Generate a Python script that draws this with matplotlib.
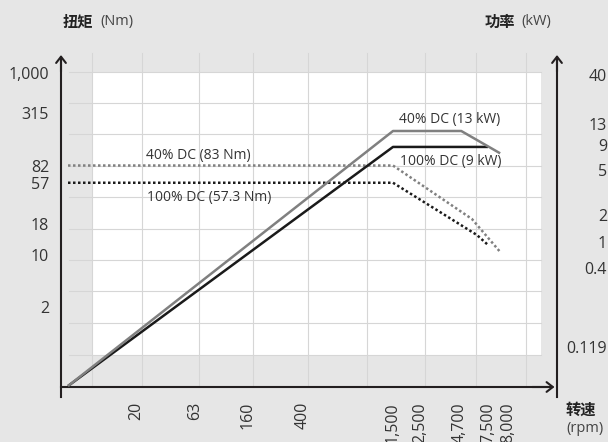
import numpy as np
import matplotlib
matplotlib.use("Agg")
import matplotlib.pyplot as plt
from matplotlib.patches import Rectangle

plt.rcParams['font.family'] = ['Open Sans', 'Noto Sans CJK SC', 'DejaVu Sans']

# --- данные (schematic) ---
rpm_ticks = [20, 63, 160, 400, 1500, 2500, 4700, 7500, 8000]
rpm_labels = ["20", "63", "160", "400", "1,500", "2,500", "4,700", "7,500", "8,000"]
torque_ticks = [2, 10, 18, 57, 82, 315, 1000]
torque_labels = ["2", "10", "18", "57", "82", "315", "1,000"]
power_ticks = [0.119, 0.4, 1, 2, 5, 9, 13, 40]
power_labels = ["0.119", "0.4", "1", "2", "5", "9", "13", "40"]

# torque curves (Nm)
t40_rpm = [5, 1500, 5740, 7800]
t40_val = [83, 83, 20.7, 10.6]
t100_rpm = [5, 1500, 6240, 7500]
t100_val = [57.3, 57.3, 14.6, 12.1]
# power curves (kW)
p40_rpm = [5, 1500, 4800, 7800]
p40_val = [0.01, 11.5, 11.5, 7.4]
p100_rpm = [5, 1500, 7500]
p100_val = [0.01, 8.6, 8.6]

# --- layout: pixel positions of the (non uniform) axis marks ---
W, H = 608, 442
AX_L, AX_R, AX_B, AX_T = 61, 557, 387, 55
x_anchor_val = [1, 5] + rpm_ticks + [20000]
x_anchor_px = [61, 68, 136, 195, 248, 303, 393, 420, 460, 488, 508, 557]
ty_anchor_val = [0.01, 2, 10, 18, 57, 82, 315, 1000, 10000]
ty_anchor_px = [400, 307, 255, 224, 183, 166, 113, 73, 20]
py_anchor_val = [0.001, 0.01, 0.119, 0.4, 1, 2, 5, 9, 13, 40, 1000]
py_anchor_px = [420, 386, 347, 268, 242, 215, 170, 145, 124, 75, 20]

grid_x_px = [92, 142, 199, 253, 308, 367, 425, 476, 526]
grid_y_px = [72, 103, 134, 166, 197, 229, 260, 291, 323, 355]

BG = '#e6e6e6'
GRID = '#d6d6d6'
AXC = '#231f20'
GRAY = '#808080'
BLACK = '#1a1a1a'
TXT = '#333333'


def make_scale(vals, pos):
    lv = np.log10(vals)
    pos = np.asarray(pos, float)

    def fwd(v):
        v = np.asarray(v, float)
        return np.interp(np.log10(np.clip(v, 1e-12, None)), lv, pos)

    def inv(p):
        return 10 ** np.interp(np.asarray(p, float), pos, lv)
    return fwd, inv


fx, ix = make_scale(x_anchor_val, np.array(x_anchor_px) - AX_L)
fy, iy = make_scale(ty_anchor_val, AX_B - np.array(ty_anchor_px))
fp, ip = make_scale(py_anchor_val, AX_B - np.array(py_anchor_px))
aw, ah = AX_R - AX_L, AX_B - AX_T

fig = plt.figure(figsize=(W / 100, H / 100), dpi=100, facecolor=BG)
ax = fig.add_axes([AX_L / W, (H - AX_B) / H, aw / W, ah / H])
ax.set_facecolor('none')
ax.set_xscale('function', functions=(fx, ix))
ax.set_yscale('function', functions=(fy, iy))
ax.set_xlim(ix(0), ix(aw))
ax.set_ylim(iy(0), iy(ah))

ax2 = ax.twinx()
ax2.set_yscale('function', functions=(fp, ip))
ax2.set_ylim(ip(0), ip(ah))

for a in (ax, ax2):
    for s in a.spines.values():
        s.set_visible(False)
    a.tick_params(length=0, labelsize=11.5, labelcolor=TXT)
    a.minorticks_off()

# white plot area + grid
ax.add_patch(Rectangle(((92 - AX_L) / aw, (AX_B - 355) / ah), (541 - 92) / aw, (355 - 72) / ah,
                       transform=ax.transAxes, fc='white', ec='none', zorder=0))
for gx in grid_x_px:
    ax.plot([(gx - AX_L) / aw] * 2, [0, (AX_B - 53) / ah], transform=ax.transAxes,
            color=GRID, lw=0.8, zorder=1, clip_on=False)
for gy in grid_y_px:
    ax.plot([(69 - AX_L) / aw, (541 - AX_L) / aw], [(AX_B - gy) / ah] * 2, transform=ax.transAxes,
            color=GRID, lw=0.8, zorder=1, clip_on=False)

# ticks
ax.set_xticks(rpm_ticks, rpm_labels, rotation=90, va='top', ha='center')
ax.tick_params(axis='x', pad=10.8)
ax.set_yticks(torque_ticks, torque_labels)
ax.tick_params(axis='y', pad=8.6)
ax2.set_yticks(power_ticks, power_labels)
ax2.tick_params(axis='y', pad=36)
for lab in ax2.get_yticklabels():
    lab.set_ha('right')

# curves
ax.plot(t40_rpm, t40_val, color=GRAY, lw=1.8, ls=(0, (1, 1)), zorder=3)
ax.plot(t100_rpm, t100_val, color=BLACK, lw=1.8, ls=(0, (1, 1)), zorder=3)
ax2.plot(p100_rpm, p100_val, color=BLACK, lw=1.8, zorder=4, solid_capstyle='butt')
ax2.plot(p40_rpm, p40_val, color=GRAY, lw=1.8, zorder=4, solid_capstyle='butt')

# axis lines with arrows
ax.plot([0, 0], [-10 / ah, 0.99], transform=ax.transAxes, color=AXC, lw=1.5, clip_on=False, zorder=5)
ax.plot([1, 1], [-10 / ah, 0.99], transform=ax.transAxes, color=AXC, lw=1.5, clip_on=False, zorder=5)
ax.plot([0, 0.99], [0, 0], transform=ax.transAxes, color=AXC, lw=1.5, clip_on=False, zorder=5)
arr = dict(arrowstyle='->,head_length=0.45,head_width=0.35', lw=1.5, color=AXC,
           shrinkA=0, shrinkB=0, mutation_scale=10)
ax.annotate('', xy=(0, 1), xytext=(0, 0.95), xycoords='axes fraction', arrowprops=arr)
ax.annotate('', xy=(1, 1), xytext=(1, 0.95), xycoords='axes fraction', arrowprops=arr)
ax.annotate('', xy=(0.995, 0), xytext=(0.95, 0), xycoords='axes fraction', arrowprops=arr)

# curve labels
ax.text((146 - AX_L) / aw, (AX_B - 155) / ah, "40% DC (83 Nm)", transform=ax.transAxes,
        fontsize=10, color=TXT, va='center', zorder=6)
ax.text((147 - AX_L) / aw, (AX_B - 197) / ah, "100% DC (57.3 Nm)", transform=ax.transAxes,
        fontsize=10, color=TXT, va='center', zorder=6)
ax.text((399 - AX_L) / aw, (AX_B - 119) / ah, "40% DC (13 kW)", transform=ax.transAxes,
        fontsize=10, color=TXT, va='center', zorder=6)
ax.text((400 - AX_L) / aw, (AX_B - 161) / ah, "100% DC (9 kW)", transform=ax.transAxes,
        fontsize=10, color=TXT, va='center', zorder=6)

# axis titles
cjk = ['Noto Sans CJK SC', 'DejaVu Sans']
fig.text(63 / W, 1 - 22 / H, "扭矩", family=cjk, weight='bold', fontsize=11, color='#222222', va='center')
fig.text(100 / W, 1 - 22 / H, "(Nm)", fontsize=10.5, color='#444444', va='center')
fig.text(485 / W, 1 - 22 / H, "功率", family=cjk, weight='bold', fontsize=11, color='#222222', va='center')
fig.text(521 / W, 1 - 22 / H, "(kW)", fontsize=10.5, color='#444444', va='center')
fig.text(566 / W, 1 - 410 / H, "转速", family=cjk, weight='bold', fontsize=11, color='#222222', va='center')
fig.text(566 / W, 1 - 428 / H, "(rpm)", fontsize=10.5, color='#444444', va='center')

fig.savefig('out.png', dpi=100, facecolor=BG)
